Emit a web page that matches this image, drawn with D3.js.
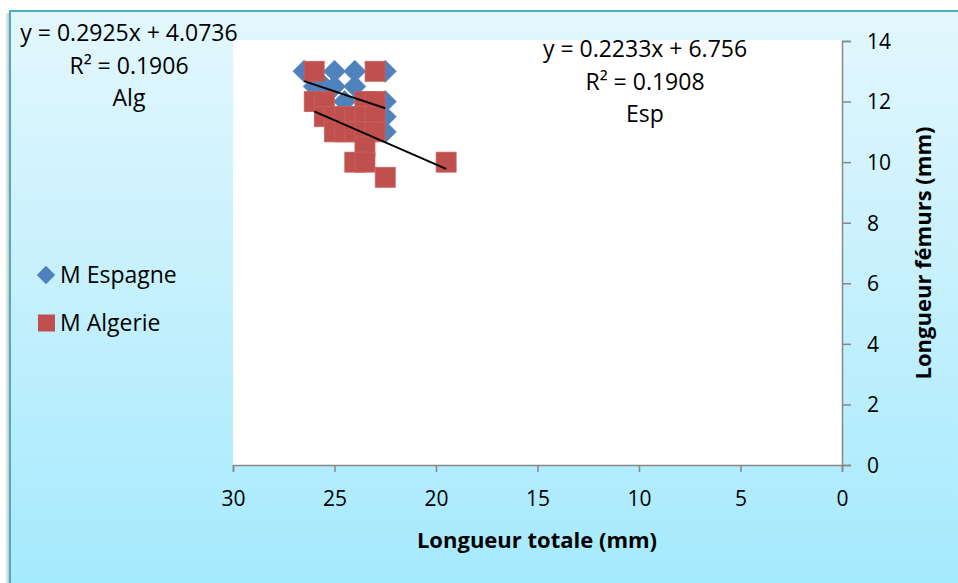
<!DOCTYPE html>
<html><head><meta charset="utf-8">
<script src="https://cdn.jsdelivr.net/npm/d3@7"></script>
<style>body{margin:0;overflow:hidden;background:#fff} svg{display:block}</style>
</head><body>
<svg id="chart" width="958" height="583"></svg>
<script>
// ---- data ----
const seriesNames = ["M Espagne", "M Algerie"];
const espX = [26.5, 25, 24, 22.5, 26, 25.5, 25, 24, 24.5, 22.5, 22.5, 22.5];
const espY = [13, 13, 13, 13, 12.5, 12.5, 12.5, 12.5, 12, 12, 11.5, 11];
const algX = [26, 23, 26, 25.5, 23.5, 23, 25.5, 25, 24.5, 24, 23.5, 23, 25, 24.5, 24, 23.5, 23, 23.5, 24, 23.5, 22.5, 19.5];
const algY = [13, 13, 12, 12, 12, 12, 11.5, 11.5, 11.5, 11.5, 11.5, 11.5, 11, 11, 11, 11, 11, 10.5, 10, 10, 9.5, 10];
const trendSlopes = [0.2233, 0.2925];
const trendIntercepts = [6.756, 4.0736];
const trendEqLabels = ["y = 0.2233x + 6.756", "y = 0.2925x + 4.0736"];
const trendR2Labels = ["R² = 0.1908", "R² = 0.1906"];
const trendNames = ["Esp", "Alg"];
const xTicks = [30, 25, 20, 15, 10, 5, 0];
const yTicks = [0, 2, 4, 6, 8, 10, 12, 14];
const xTitle = "Longueur totale (mm)";
const yTitle = "Longueur fémurs (mm)";

// ---- drawing ----
const svg = d3.select("#chart");
const FONT = "'Open Sans', sans-serif";
const colors = ["#4f81bd", "#c0504d"];

const defs = svg.append("defs");
const grad = defs.append("linearGradient").attr("id", "bg").attr("x1", 0).attr("y1", 0).attr("x2", 0).attr("y2", 1);
grad.append("stop").attr("offset", "0%").attr("stop-color", "#e3f7fd");
grad.append("stop").attr("offset", "50%").attr("stop-color", "#c3f0fd");
grad.append("stop").attr("offset", "100%").attr("stop-color", "#a2e9fe");
const sh = defs.append("linearGradient").attr("id", "sh").attr("x1", 0).attr("x2", 1);
sh.append("stop").attr("offset", "0%").attr("stop-color", "#ffffff");
sh.append("stop").attr("offset", "100%").attr("stop-color", "#b8b8b8");

svg.append("rect").attr("x", 5).attr("y", 13).attr("width", 5).attr("height", 600).attr("fill", "url(#sh)");
svg.append("rect").attr("x", 10).attr("y", 11).attr("width", 960).attr("height", 600)
  .attr("fill", "url(#bg)").attr("stroke", "#4bacc6").attr("stroke-width", 2);

const x = d3.scaleLinear().domain([30, 0]).range([233, 842]);
const y = d3.scaleLinear().domain([0, 14]).range([465, 41]);

// plot area
svg.append("rect").attr("x", x(30)).attr("y", y(14) - 1).attr("width", x(0) - x(30)).attr("height", y(0) - y(14) + 1).attr("fill", "#fff");

// axes
const xAxis = svg.append("g").attr("transform", `translate(0,${y(0)})`)
  .call(d3.axisBottom(x).tickValues(xTicks).tickSize(7).tickPadding(19).tickFormat(d3.format("d")));
const yAxis = svg.append("g").attr("transform", `translate(${x(0)},0)`)
  .call(d3.axisRight(y).tickValues(yTicks).tickSize(9).tickPadding(16).tickFormat(d3.format("d")));
[xAxis, yAxis].forEach(g => {
  g.selectAll("path,line").attr("stroke", "#878787").attr("stroke-width", 1.5);
  g.selectAll("text").attr("font-family", FONT).attr("font-size", 21).attr("fill", "#000");
});
yAxis.selectAll("text").attr("text-anchor", "start").attr("dy", "0.35em");

// titles
svg.append("text").attr("x", 537).attr("y", 548).attr("text-anchor", "middle")
  .attr("font-family", FONT).attr("font-weight", "bold").attr("font-size", 22).text(xTitle);
svg.append("text").attr("transform", "translate(931,253) rotate(-90)").attr("text-anchor", "middle")
  .attr("font-family", FONT).attr("font-weight", "bold").attr("font-size", 22).text(yTitle);

// series
const esp = espX.map((v, i) => ({ x: v, y: espY[i] }));
const alg = algX.map((v, i) => ({ x: v, y: algY[i] }));
svg.append("g").selectAll("rect").data(esp).join("rect")
  .attr("x", -7.8).attr("y", -7.8).attr("width", 15.6).attr("height", 15.6)
  .attr("transform", d => `translate(${x(d.x)},${y(d.y)}) rotate(45)`)
  .attr("fill", colors[0]).attr("stroke", "#5a8bc4").attr("stroke-width", 0.8);
svg.append("g").selectAll("rect").data(alg).join("rect")
  .attr("x", d => x(d.x) - 10).attr("y", d => y(d.y) - 10).attr("width", 20).attr("height", 20)
  .attr("fill", colors[1]).attr("stroke", "#c8605d").attr("stroke-width", 0.8);

// trendlines
[esp, alg].forEach((data, i) => {
  const [x0, x1] = d3.extent(data, d => d.x);
  svg.append("line")
    .attr("x1", x(x0)).attr("y1", y(trendSlopes[i] * x0 + trendIntercepts[i]))
    .attr("x2", x(x1)).attr("y2", y(trendSlopes[i] * x1 + trendIntercepts[i]))
    .attr("stroke", "#000").attr("stroke-width", 2);
});

// trend labels
const labelPos = [[645, 49], [129, 33]];
trendNames.forEach((n, i) => {
  const [cx, cy] = labelPos[i];
  [trendEqLabels[i], trendR2Labels[i], n].forEach((t, j) => {
    svg.append("text").attr("x", cx).attr("y", cy + j * 32.5).attr("dy", "0.35em")
      .attr("text-anchor", "middle").attr("font-family", FONT).attr("font-size", 23).attr("fill", "#000").text(t);
  });
});

// legend
const legY = [275, 323];
svg.append("rect").attr("x", -6.5).attr("y", -6.5).attr("width", 13).attr("height", 13)
  .attr("transform", `translate(46,${legY[0]}) rotate(45)`).attr("fill", colors[0]);
svg.append("rect").attr("x", 38).attr("y", legY[1] - 8.5).attr("width", 17).attr("height", 17).attr("fill", colors[1]);
seriesNames.forEach((n, i) => {
  svg.append("text").attr("x", 60).attr("y", legY[i]).attr("dy", "0.35em")
    .attr("font-family", FONT).attr("font-size", 23).attr("fill", "#000").text(n);
});
</script>
</body></html>
